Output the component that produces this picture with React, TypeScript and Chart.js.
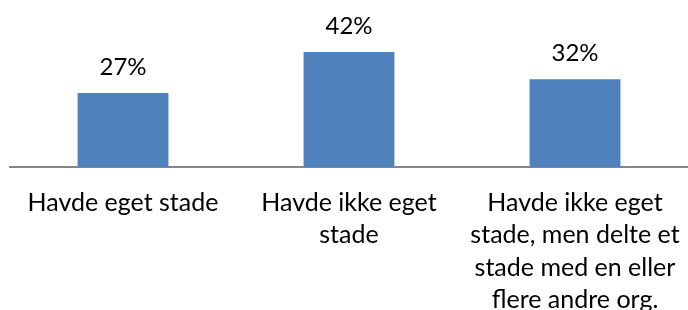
import React, { useEffect, useRef } from 'react';
import { Chart, registerables } from 'chart.js';

Chart.register(...registerables);

const categories: string[][] = [
  ['Havde eget stade'],
  ['Havde ikke eget', 'stade'],
  ['Havde ikke eget', 'stade, men delte et', 'stade med en eller', 'flere andre org.'],
];
const values: number[] = [27, 42, 32];
const valueLabels: string[] = ['27%', '42%', '32%'];

const FONT = 'Lato, Carlito, Calibri, sans-serif';

const valueLabelPlugin = {
  id: 'valueLabels',
  afterDatasetsDraw(chart: any) {
    const ctx = chart.ctx;
    const meta = chart.getDatasetMeta(0);
    ctx.save();
    ctx.font = `24px ${FONT}`;
    ctx.fillStyle = '#000000';
    ctx.textAlign = 'center';
    ctx.textBaseline = 'alphabetic';
    meta.data.forEach((bar: any, i: number) => {
      ctx.fillText(valueLabels[i], bar.x, bar.y - 18);
    });
    ctx.restore();
  },
};

export default function App() {
  const ref = useRef<HTMLCanvasElement | null>(null);
  useEffect(() => {
    if (!ref.current) return;
    const chart = new Chart(ref.current, {
      type: 'bar',
      data: {
        labels: categories,
        datasets: [
          {
            data: values,
            backgroundColor: '#4F81BD',
            borderWidth: 0,
            categoryPercentage: 1,
            barPercentage: 0.402,
          },
        ],
      },
      options: {
        animation: false,
        responsive: false,
        maintainAspectRatio: false,
        layout: { padding: { left: 10, right: -3, top: 30, bottom: 0 } },
        plugins: {
          legend: { display: false },
          tooltip: { enabled: false },
        },
        scales: {
          x: {
            grid: { display: false, drawTicks: false },
            border: { display: true, color: '#868686', width: 2 },
            ticks: {
              color: '#000000',
              padding: 20,
              maxRotation: 0,
              autoSkip: false,
              font: { family: FONT, size: 25, lineHeight: 1.29 },
            },
            afterFit(scale: any) {
              scale.height = 143;
              scale.paddingLeft = 0;
              scale.paddingRight = 0;
            },
          },
          y: {
            display: false,
            min: 0,
            max: 50,
          },
        },
      },
      plugins: [valueLabelPlugin],
    });
    return () => chart.destroy();
  }, []);
  return (
    <div style={{ position: 'absolute', left: 0, top: 0, width: 688, height: 310, background: '#ffffff' }}>
      <canvas ref={ref} width={688} height={310} style={{ width: 688, height: 310 }} />
    </div>
  );
}
